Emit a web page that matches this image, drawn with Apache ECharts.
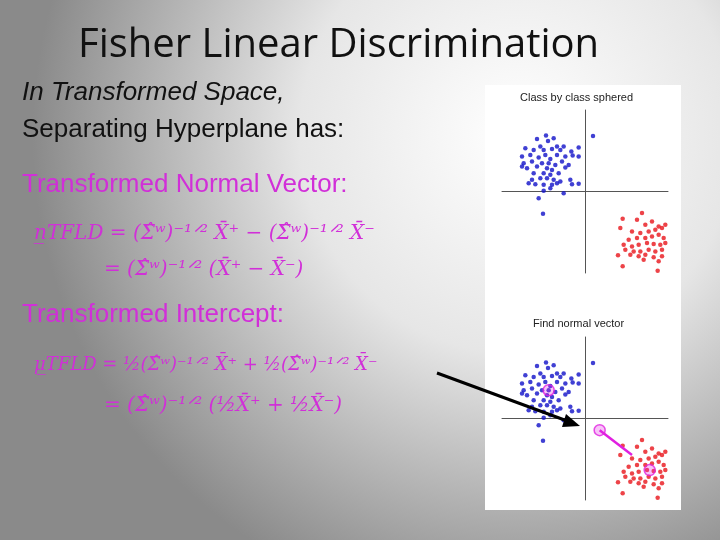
<!DOCTYPE html>
<html><head><meta charset="utf-8">
<script src="https://cdn.jsdelivr.net/npm/echarts@6/dist/echarts.min.js"></script>
<style>html,body{margin:0;padding:0}#c{width:720px;height:540px}</style>
</head><body><div id="c"></div>
<script>
// point coordinates in plot units (origin at axis crossing)
const bluePts = [[155,162],[182,152],[205,160],[188,168],[165,185],[215,185],[235,185],[280,188],[120,190],[145,195],[175,195],[200,192],[225,195],[258,200],[110,215],[135,210],[160,218],[180,210],[195,222],[215,210],[240,215],[262,212],[280,215],[115,235],[140,230],[170,235],[190,235],[210,240],[230,230],[250,240],[125,250],[155,245],[185,250],[200,255],[240,248],[110,245],[145,265],[175,265],[195,270],[220,265],[140,285],[165,280],[185,280],[205,285],[225,290],[255,285],[130,295],[150,298],[175,300],[200,300],[215,295],[260,298],[280,297],[195,310],[175,318],[235,325],[160,340],[173,387],[323,153]];
const redPts = [[412,402],[470,385],[500,410],[455,405],[480,420],[520,425],[540,420],[405,430],[440,440],[465,445],[490,440],[510,435],[530,430],[430,465],[455,460],[480,460],[500,455],[520,450],[535,460],[415,480],[440,485],[460,480],[485,475],[505,478],[525,480],[540,475],[420,495],[445,500],[465,500],[490,495],[510,500],[530,495],[435,510],[460,515],[480,510],[505,518],[530,515],[398,512],[475,525],[520,530],[412,545],[517,558]];
const blueMean = [190,235], redMean = [493,475], cutPoint = [343,355], segEnd = [440,430];
const conv = p => [p[0]-300, 320-p[1]];
const blue = bluePts.map(conv), red = redPts.map(conv);

const grids = [{left:502,top:110,width:166,height:163},{left:502,top:337,width:166,height:163}];
const xAxes = [0,1].map(i=>({gridIndex:i,type:'value',min:-250,max:248,axisLine:{onZero:true,lineStyle:{color:'#555',width:1}},axisTick:{show:false},axisLabel:{show:false},splitLine:{show:false}}));
const yAxes = [0,1].map(i=>({gridIndex:i,type:'value',min:-245,max:245,axisLine:{onZero:true,lineStyle:{color:'#555',width:1}},axisTick:{show:false},axisLabel:{show:false},splitLine:{show:false}}));
const series = [];
[0,1].forEach(i=>{
  series.push({type:'scatter',xAxisIndex:i,yAxisIndex:i,data:blue,symbolSize:4.5,itemStyle:{color:'#1010c8'},silent:true});
  series.push({type:'scatter',xAxisIndex:i,yAxisIndex:i,data:red,symbolSize:4.5,itemStyle:{color:'#e8141a'},silent:true});
});
series.push({type:'line',xAxisIndex:1,yAxisIndex:1,data:[conv(cutPoint),conv(segEnd)],symbol:'none',lineStyle:{color:'#e020e0',width:2.5},silent:true});
series.push({type:'scatter',xAxisIndex:1,yAxisIndex:1,data:[conv(blueMean),conv(redMean),conv(cutPoint)],symbol:'circle',symbolSize:11,itemStyle:{color:'rgba(230,40,230,0.35)',borderColor:'#e020e0',borderWidth:1.5},silent:true,z:5});

const mag = '#d12fd8';
const ff = 'italic 20px "DejaVu Serif", serif';
const tx = (l,t,s,sz,extra)=>Object.assign({type:'text',left:l,top:t,style:Object.assign({text:s,font:sz+'px "Liberation Sans", Arial',fill:'#111'},extra||{})});
const chart = echarts.init(document.getElementById('c'));
chart.setOption({
  animation:false,
  backgroundColor:{type:'radial',x:0.72,y:0.25,r:0.9,colorStops:[{offset:0,color:'#ffffff'},{offset:0.45,color:'#e6e6e6'},{offset:1,color:'#8a8a8a'}]},
  grid:grids,xAxis:xAxes,yAxis:yAxes,series:series,
  graphic:[
    {type:'rect',left:485,top:85,shape:{width:196,height:425},style:{fill:'#fff'},z:-1},
    {type:'text',left:520,top:92,style:{text:'Class by class sphered',font:'11px "Liberation Sans", Arial',fill:'#222'}},
    {type:'text',left:533,top:318,style:{text:'Find normal vector',font:'11px "Liberation Sans", Arial',fill:'#222'}},
    {type:'text',left:78,top:26,style:{text:'Fisher Linear Discrimination',font:'40px "Open Sans", "Liberation Sans"',fill:'#111'}},
    tx(22,80,'In Transformed Space,',26,{font:'italic 26px "Liberation Sans", Arial'}),
    tx(22,117,'Separating Hyperplane has:',26),
    tx(22,172,'Transformed Normal Vector:',26,{fill:mag}),
    tx(34,224,'n\u0332TFLD = (Σ̂ʷ)⁻¹ᐟ² X̄⁺ − (Σ̂ʷ)⁻¹ᐟ² X̄⁻',20,{fill:mag,font:ff}),
    tx(104,260,'= (Σ̂ʷ)⁻¹ᐟ² (X̄⁺ − X̄⁻)',20,{fill:mag,font:ff}),
    tx(22,302,'Transformed Intercept:',26,{fill:mag}),
    tx(34,356,'μ\u0332TFLD = ½(Σ̂ʷ)⁻¹ᐟ² X̄⁺ + ½(Σ̂ʷ)⁻¹ᐟ² X̄⁻',18,{fill:mag,font:'italic 18px "DejaVu Serif", serif'}),
    tx(104,396,'= (Σ̂ʷ)⁻¹ᐟ² (½X̄⁺ + ½X̄⁻)',20,{fill:mag,font:ff}),
    {type:'line',shape:{x1:437,y1:373,x2:570,y2:422},style:{stroke:'#000',lineWidth:3},z:10},
    {type:'polygon',shape:{points:[[580,426],[566,414],[562,427]]},style:{fill:'#000'},z:10}
  ]
});
</script></body></html>
